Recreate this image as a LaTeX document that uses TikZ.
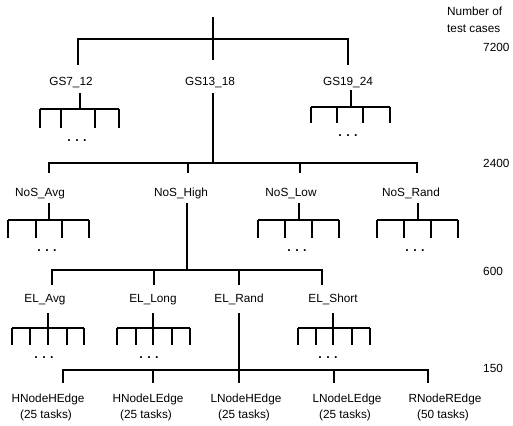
\documentclass[tikz,border=0pt]{standalone}
\usepackage{fontspec}
\setmainfont{Liberation Sans}
\tikzset{br/.style={line width=1.5pt},
  lbl/.style={anchor=base,inner sep=0pt,font=\fontsize{11.8}{14}\selectfont},
  num/.style={lbl,anchor=base west},
  dotrow/.style={lbl,font=\fontsize{12.5}{14}\selectfont\bfseries}}

\begin{document}
\begin{tikzpicture}[x=1pt,y=-1pt]
\useasboundingbox (0,0) rectangle (513,425);
% counts column
\node[num] (hd1) at (447,16) {Number of};
\node[num] (hd2) at (447,33) {test cases};
\node[num] (c7200) at (483,52) {7200};
\node[num] (c2400) at (483,167) {2400};
\node[num] (c600) at (483,275) {600};
\node[num] (c150) at (483,372) {150};

% group size
\draw[br] (213,17) -- (213,39) coordinate (j0);
\draw[br] (78,65) -- (78,39) -- (348,39) -- (348,65);
\draw[br] (j0) -- (213,60);
\node[lbl] (gs1) at (71,85) {GS7\_12};
\node[lbl] (gs2) at (210,85) {GS13\_18};
\node[lbl] (gs3) at (348,86) {GS19\_24};

% number of sources
\draw[br] (213,93) -- (213,163) coordinate (j1);
\draw[br] (49,173) -- (49,163) -- (417,163) -- (417,173);
\draw[br] (188,163) -- (188,173);
\draw[br] (300,163) -- (300,173);
\node[lbl] (nos1) at (40,196) {NoS\_Avg};
\node[lbl] (nos2) at (181,196) {NoS\_High};
\node[lbl] (nos3) at (291,196) {NoS\_Low};
\node[lbl] (nos4) at (411,196) {NoS\_Rand};

% edge length
\draw[br] (187,203) -- (187,270) coordinate (j2);
\draw[br] (52,285) -- (52,270) -- (322,270) -- (322,285);
\draw[br] (154,270) -- (154,285);
\draw[br] (239,270) -- (239,285);
\node[lbl] (el1) at (45,302) {EL\_Avg};
\node[lbl] (el2) at (153,302) {EL\_Long};
\node[lbl] (el3) at (239,302) {EL\_Rand};
\node[lbl] (el4) at (333,302) {EL\_Short};

% task sets
\draw[br] (239,313) -- (239,370) coordinate (j3);
\draw[br] (63,383) -- (63,370) -- (428,370) -- (428,383);
\foreach \x in {153,239,334}
  \draw[br] (\x,370) -- (\x,383);
\foreach \x/\t/\n [count=\i] in {48/HNodeHEdge/25,148/HNodeLEdge/25,
    246/LNodeHEdge/25,347/LNodeLEdge/25,445/RNodeREdge/50}
{
  \node[lbl] (ts\i) at (\x,402) {\t};
  \node[lbl] (tn\i) at (\x-2,418) {(\n{} tasks)};
}

% collapsed subtrees
\foreach \sx/\sy/\by/\bot/\lx/\rx/\legs/\dx in {
    80/93/109/128/40/119/{40,61,95,119}/77,
    351/90/107/123/311/390/{311,337,363,390}/348,
    49/203/220/238/8/89/{8,36,62,89}/47,
    299/203/220/238/258/339/{258,285,312,339}/297,
    418/203/220/238/377/458/{377,404,431,458}/415,
    48/313/328/345/12/84/{12,30,48,67,84}/44,
    153/313/328/345/117/190/{117,136,153,172,190}/149,
    333/313/328/345/298/370/{298,316,333,352,370}/328}
{
  \draw[br] (\sx,\sy) -- (\sx,\by);
  \draw[br] (\lx,\by) -- (\rx,\by);
  \foreach \l in \legs
    \draw[br] (\l,\by) -- (\l,\bot);
  \node[dotrow] at (\dx,\bot+13) {.\hspace{4.5pt}.\hspace{4.5pt}.};
}
\end{tikzpicture}
\end{document}
